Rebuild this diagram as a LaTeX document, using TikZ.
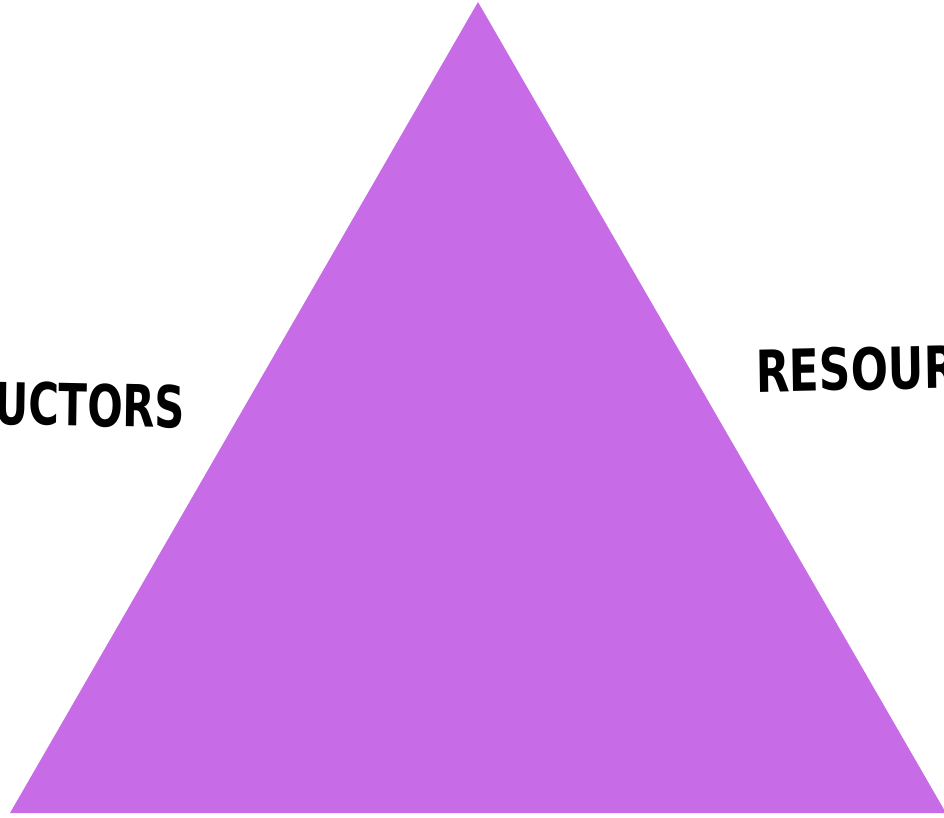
\documentclass[tikz,border=0pt]{standalone}
\usepackage{fontspec}
\newfontfamily\labelfont{DejaVu Sans Condensed}[BoldFont={DejaVu Sans Condensed Bold}]
\definecolor{pyramid}{RGB}{199,108,230}
\tikzset{
  sidelabel/.style={font=\labelfont\bfseries\fontsize{58}{58}\selectfont, text=black, inner sep=0pt, anchor=base west},
}
\begin{document}
\begin{tikzpicture}[x=1pt,y=-1pt]
  \useasboundingbox (0,0) rectangle (944,817);
  \clip (0,0) rectangle (944,817);
  % the triangle
  \coordinate (apex) at (478,2);
  \coordinate (left) at (10,813);
  \coordinate (right) at (946,813);
  \fill[pyramid] (apex) -- (left) -- (right) -- cycle;
  % side labels, running off the edges
  \node[sidelabel, xscale=0.80, rotate=-1] (instructors) at (-6,424) {UCTORS};
  \node[sidelabel, xscale=0.84, rotate=1] (resources) at (756,392) {RESOUR};
\end{tikzpicture}
\end{document}
